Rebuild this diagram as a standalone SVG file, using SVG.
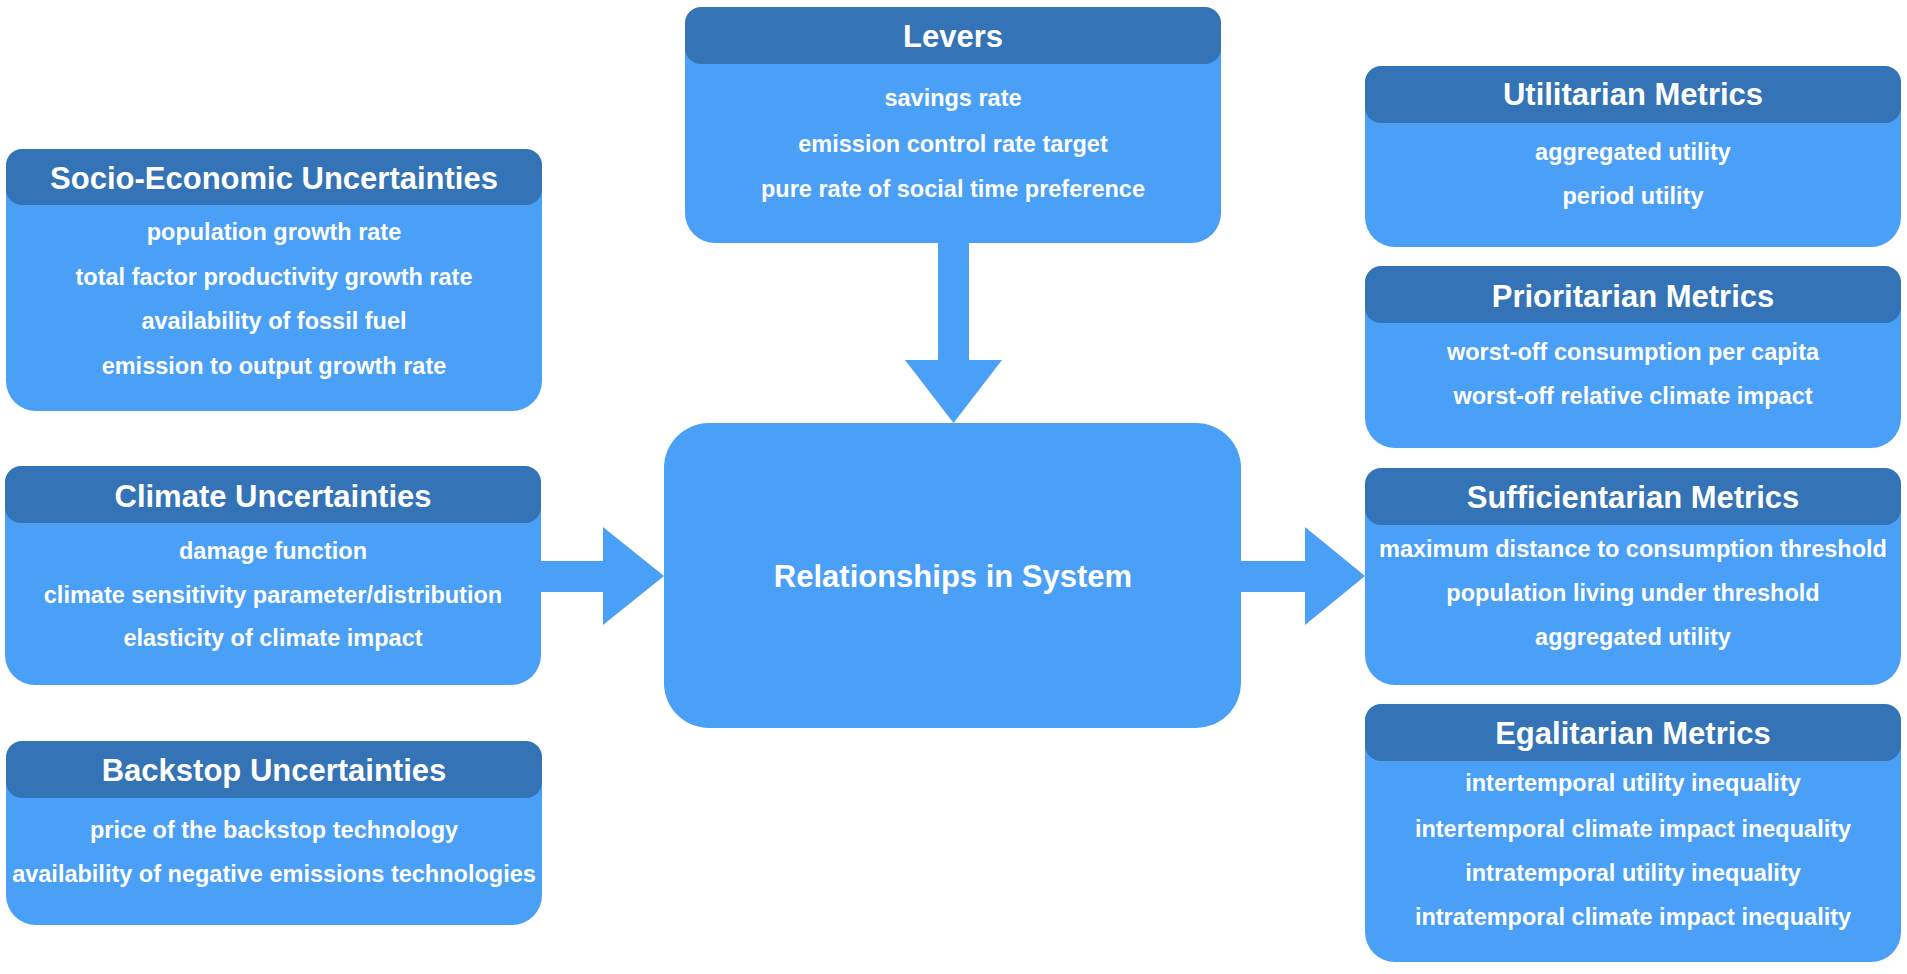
<svg xmlns="http://www.w3.org/2000/svg" width="1907" height="974" viewBox="0 0 1907 974">
<style>
.body{fill:#4A9FF6}
.head{fill:#3473B5}
.t{font-family:"Liberation Sans",Arial,sans-serif;font-weight:bold;fill:#fff;text-anchor:middle}
.title{font-size:31px}
.item{font-size:23.5px}
.center{font-size:31px}
.arrow{fill:#4A9FF6}
</style>
<rect width="1907" height="974" fill="#fff"/>
<g id="connectors">
<polygon class="arrow" points="938,240 969,240 969,360 1002,360 953.5,423 905,360 938,360"/>
<polygon class="arrow" points="538,561 603,561 603,527 664,576 603,625 603,592 538,592"/>
<polygon class="arrow" points="1238,561 1305,561 1305,527 1365,576 1305,625 1305,592 1238,592"/>
</g>
<g id="levers">
<rect class="body" x="685" y="7" width="536" height="236" rx="30"/>
<rect class="head" x="685" y="7" width="536" height="57" rx="16"/>
<text class="t title" x="953" y="47">Levers</text>
<text class="t item" x="953" y="106">savings rate</text>
<text class="t item" x="953" y="152">emission control rate target</text>
<text class="t item" x="953" y="197">pure rate of social time preference</text>
</g>
<g id="socio-economic">
<rect class="body" x="6" y="149" width="536" height="262" rx="30"/>
<rect class="head" x="6" y="149" width="536" height="56" rx="16"/>
<text class="t title" x="274" y="189">Socio-Economic Uncertainties</text>
<text class="t item" x="274" y="240">population growth rate</text>
<text class="t item" x="274" y="285">total factor productivity growth rate</text>
<text class="t item" x="274" y="329">availability of fossil fuel</text>
<text class="t item" x="274" y="374">emission to output growth rate</text>
</g>
<g id="climate">
<rect class="body" x="5" y="466" width="536" height="219" rx="30"/>
<rect class="head" x="5" y="466" width="536" height="57" rx="16"/>
<text class="t title" x="273" y="507">Climate Uncertainties</text>
<text class="t item" x="273" y="559">damage function</text>
<text class="t item" x="273" y="603">climate sensitivity parameter/distribution</text>
<text class="t item" x="273" y="646">elasticity of climate impact</text>
</g>
<g id="backstop">
<rect class="body" x="6" y="741" width="536" height="184" rx="30"/>
<rect class="head" x="6" y="741" width="536" height="57" rx="16"/>
<text class="t title" x="274" y="781">Backstop Uncertainties</text>
<text class="t item" x="274" y="838">price of the backstop technology</text>
<text class="t item" x="274" y="882">availability of negative emissions technologies</text>
</g>
<g id="relationships">
<rect class="body" x="664" y="423" width="577" height="305" rx="45"/>
<text class="t center" x="953" y="587">Relationships in System</text>
</g>
<g id="utilitarian">
<rect class="body" x="1365" y="66" width="536" height="181" rx="30"/>
<rect class="head" x="1365" y="66" width="536" height="57" rx="16"/>
<text class="t title" x="1633" y="105">Utilitarian Metrics</text>
<text class="t item" x="1633" y="160">aggregated utility</text>
<text class="t item" x="1633" y="204">period utility</text>
</g>
<g id="prioritarian">
<rect class="body" x="1365" y="266" width="536" height="182" rx="30"/>
<rect class="head" x="1365" y="266" width="536" height="57" rx="16"/>
<text class="t title" x="1633" y="307">Prioritarian Metrics</text>
<text class="t item" x="1633" y="360">worst-off consumption per capita</text>
<text class="t item" x="1633" y="404">worst-off relative climate impact</text>
</g>
<g id="sufficientarian">
<rect class="body" x="1365" y="468" width="536" height="217" rx="30"/>
<rect class="head" x="1365" y="468" width="536" height="57" rx="16"/>
<text class="t title" x="1633" y="508">Sufficientarian Metrics</text>
<text class="t item" x="1633" y="557">maximum distance to consumption threshold</text>
<text class="t item" x="1633" y="601">population living under threshold</text>
<text class="t item" x="1633" y="645">aggregated utility</text>
</g>
<g id="egalitarian">
<rect class="body" x="1365" y="704" width="536" height="258" rx="30"/>
<rect class="head" x="1365" y="704" width="536" height="57" rx="16"/>
<text class="t title" x="1633" y="744">Egalitarian Metrics</text>
<text class="t item" x="1633" y="791">intertemporal utility inequality</text>
<text class="t item" x="1633" y="837">intertemporal climate impact inequality</text>
<text class="t item" x="1633" y="881">intratemporal utility inequality</text>
<text class="t item" x="1633" y="925">intratemporal climate impact inequality</text>
</g>
</svg>
